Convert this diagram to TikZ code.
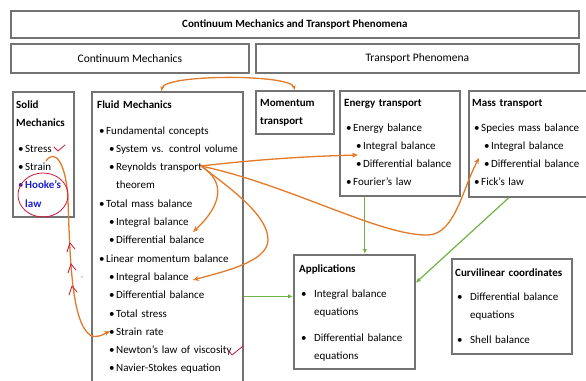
\documentclass[tikz,border=0pt]{standalone}
\usepackage{fontspec}
\setmainfont{Carlito}
\usepackage{xcolor}
\usetikzlibrary{arrows.meta, positioning, shapes.geometric}

\definecolor{linkorange}{RGB}{226,122,40}
\definecolor{flowgreen}{RGB}{112,178,68}
\definecolor{inkred}{RGB}{205,25,55}
\definecolor{hookeblue}{RGB}{30,30,205}

\newcommand{\onebul}[1]{\hspace*{2pt}\makebox[7pt][l]{\textbullet}#1}
\newcommand{\twobul}[1]{\hspace*{12pt}\makebox[7pt][l]{\textbullet}#1}
\newcommand{\appbul}[1]{\hspace*{2pt}\makebox[13pt][l]{\textbullet}#1}

\begin{document}
\begin{tikzpicture}[
        x=1pt, y=-1pt,
        box/.style={rectangle, draw=black!55, line width=1.7pt, inner sep=0pt, anchor=north west},
        content/.style={anchor=base west, inner sep=0pt, align=left, text width=160pt, font=\fontsize{11}{18.3}\selectfont},
        flow/.style={-{Latex[length=5pt,width=4.5pt]}, draw=flowgreen, line width=1.2pt},
        link/.style={-{Stealth[length=6pt,width=5pt]}, draw=linkorange, line width=1.3pt},
        ink/.style={draw=inkred, line width=0.8pt, line cap=round, line join=round}
    ]
        \useasboundingbox (0,0) rectangle (586,380);

        % Header boxes
        \node[box, minimum width=568pt, minimum height=27pt, font=\fontsize{11}{14}\selectfont\bfseries] (title) at (10,10) {Continuum Mechanics and Transport Phenomena};
        \node[box, minimum width=238pt, minimum height=29pt, font=\fontsize{11.5}{14}\selectfont] (cm) at (10,43) {Continuum Mechanics};
        \node[box, minimum width=323pt, minimum height=29pt, font=\fontsize{11.5}{14}\selectfont] (tp) at (255,43) {Transport Phenomena};

        % Boxes
        \node[box, minimum width=61pt, minimum height=125pt] (solid) at (12,91) {};
        \node[box, minimum width=151pt, minimum height=292pt] (fluid) at (91,91) {};
        \node[box, minimum width=78pt, minimum height=43pt] (mom) at (255,90) {};
        \node[box, minimum width=120pt, minimum height=105pt] (energy) at (339,90) {};
        \node[box, minimum width=118pt, minimum height=106pt] (mass) at (468,90) {};
        \node[box, minimum width=121pt, minimum height=114pt] (apps) at (293,254) {};
        \node[box, minimum width=120pt, minimum height=95pt] (curvi) at (451,258) {};

        % Box contents
        \node[content] (solidtext) at (16,108) {\textbf{Solid}\\
            \textbf{Mechanics}\\[7.7pt]
            \onebul{Stress}\\
            \onebul{Strain}\\
            {\color{hookeblue}\onebul{\textbf{Hooke's}}}\\
            \hspace*{9pt}{\color{hookeblue}\textbf{law}}};
        \node[content] (fluidtext) at (97,108) {\textbf{Fluid Mechanics}\\[7.7pt]
            \onebul{Fundamental concepts}\\
            \twobul{System vs. control volume}\\
            \twobul{Reynolds transport}\\
            \hspace*{19pt}theorem\\
            \onebul{Total mass balance}\\
            \twobul{Integral balance}\\
            \twobul{Differential balance}\\
            \onebul{Linear momentum balance}\\
            \twobul{Integral balance}\\
            \twobul{Differential balance}\\
            \twobul{Total stress}\\
            \twobul{Strain rate}\\
            \twobul{Newton's law of viscosity}\\
            \twobul{Navier-Stokes equation}};
        \node[content] (momtext) at (260,106) {\textbf{Momentum}\\
            \textbf{transport}};
        \node[content] (energytext) at (344,106) {\textbf{Energy transport}\\[6.7pt]
            \onebul{Energy balance}\\
            \twobul{Integral balance}\\
            \twobul{Differential balance}\\
            \onebul{Fourier's law}};
        \node[content] (masstext) at (472,106) {\textbf{Mass transport}\\[6.7pt]
            \onebul{Species mass balance}\\
            \twobul{Integral balance}\\
            \twobul{Differential balance}\\
            \onebul{Fick's law}};
        \node[content] (appstext) at (299,272) {\textbf{Applications}\\[6.7pt]
            \appbul{Integral balance}\\
            \hspace*{15pt}equations\\[7.7pt]
            \appbul{Differential balance}\\
            \hspace*{15pt}equations};
        \node[content] (curvitext) at (455,276) {\textbf{Curvilinear coordinates}\\[5.7pt]
            \appbul{Differential balance}\\
            \hspace*{15pt}equations\\[6.7pt]
            \appbul{Shell balance}};

        % Points in the text
        \coordinate (rey) at (201,166);
        \coordinate (eint) at (358,155);
        \coordinate (mint) at (479,158);
        \coordinate (tmint) at (193,232);
        \coordinate (lmint) at (193,280);
        \coordinate (stress) at (46,161);
        \coordinate (srate) at (110,331);

        % Green flows
        \draw[flow] ([xshift=-35pt]energy.south) -- ([xshift=-35pt]energy.south |- apps.north);
        \draw[flow] ([xshift=-19pt]mass.south) -- ([yshift=29pt]apps.east);
        \draw[flow] ([yshift=-58.5pt]fluid.east) -- ([yshift=-58.5pt]fluid.east -| apps.west);

        % Orange links
        \draw[link, {Stealth[length=5pt,width=4pt]}-{Stealth[length=5pt,width=4pt]}] ([xshift=-6pt]fluid.north) .. controls (165,74) and (290,74) .. (mom.north);
        \draw[link] (rey) .. controls (270,158) and (320,156) .. (eint);
        \draw[link] (rey) .. controls (290,185) and (380,236) .. (428,235) .. controls (455,234) and (462,190) .. (mint);
        \draw[link] (rey) .. controls (226,182) and (222,205) .. (tmint);
        \draw[link] (rey) .. controls (240,195) and (268,218) .. (268,240) .. controls (268,262) and (222,272) .. (lmint);
        \draw[link] (stress) .. controls (54,149) and (66,160) .. (68,200) .. controls (70,262) and (72,322) .. (90,335) .. controls (97,339) and (104,334) .. (srate);

        % Red pen marks
        \draw[ink] (43,195) ellipse[x radius=25pt, y radius=22pt];
        \draw[ink] (54,147) -- (58,151) -- (65,145);
        \draw[ink] (229,351) -- (232,355) -- (243,346);
        \draw[ink] (67,252) -- (70,243) -- (75,249);
        \draw[ink] (68,273) -- (71,264) -- (76,270);
        \draw[ink] (69,295) -- (72,286) -- (77,292);
        \fill[inkred] (82,277) circle[radius=0.6pt];
    \end{tikzpicture}
\end{document}
